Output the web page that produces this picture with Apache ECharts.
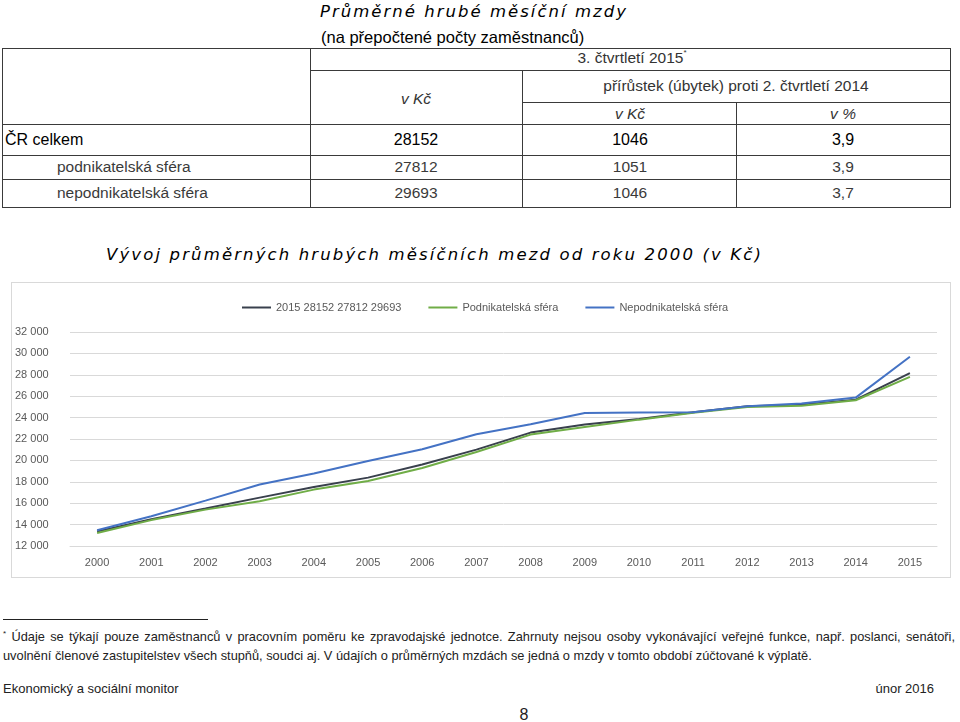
<!DOCTYPE html>
<html><head><meta charset="utf-8">
<script src="https://cdn.jsdelivr.net/npm/echarts@6/dist/echarts.min.js"></script>
<style>
body{margin:0;width:960px;height:722px;position:relative;background:#fff;overflow:hidden;font-family:"Liberation Sans",Arial,sans-serif;color:#1a1a1a}
.t{position:absolute;white-space:nowrap;line-height:1}
.hl{position:absolute;height:0;border-top:1.5px solid #3a3a3a}
.vl{position:absolute;width:0;border-left:1.5px solid #3a3a3a}
#chart{position:absolute;left:11px;top:282px;width:940px;height:296px;border:1px solid #d9d9d9;box-sizing:border-box}
.sp{font-family:"DejaVu Sans",sans-serif;font-style:italic;font-size:16.5px;color:#000}
sup{font-size:8px;vertical-align:top;position:relative;top:-1px}
</style></head><body>
<div id="page"></div>
<div id="chart"></div>
<script>
// ---------- data ----------
const years = ['2000','2001','2002','2003','2004','2005','2006','2007','2008','2009','2010','2011','2012','2013','2014','2015'];
const crTotal  = [13350,14500,15500,16520,17510,18390,19610,21010,22600,23350,23870,24490,25060,25210,25680,28152];
const podnik   = [13220,14420,15400,16180,17270,18080,19290,20790,22410,23120,23810,24450,24990,25100,25620,27812];
const nepodnik = [13470,14780,16240,17740,18770,19940,21040,22450,23380,24430,24470,24500,25060,25310,25870,29693];
const seriesNames = ['2015 28152 27812 29693','Podnikatelská sféra','Nepodnikatelská sféra'];
const yTicks = [12000,14000,16000,18000,20000,22000,24000,26000,28000,30000,32000];

const rowLabels = ['ČR celkem','podnikatelská sféra','nepodnikatelská sféra'];
const rowKc     = ['28152','27812','29693'];
const rowDiffKc = ['1046','1051','1046'];
const rowDiffPc = ['3,9','3,9','3,7'];

const title1 = 'Průměrné hrubé měsíční mzdy';
const title2 = '(na přepočtené počty zaměstnanců)';
const chartTitle = 'Vývoj průměrných hrubých měsíčních mezd od roku 2000 (v Kč)';
const footLine1 = 'Údaje se týkají pouze zaměstnanců v pracovním poměru ke zpravodajské jednotce. Zahrnuty nejsou osoby vykonávající veřejné funkce, např. poslanci, senátoři,';
const footLine2 = 'uvolnění členové zastupitelstev všech stupňů, soudci aj. V údajích o průměrných mzdách se jedná o mzdy v tomto období zúčtované k výplatě.';

// ---------- page (document text and table) ----------
const page = document.getElementById('page');
function txt(s, x, y, opt){
  opt = opt || {};
  const d = document.createElement('div');
  d.className = 't' + (opt.cls ? ' ' + opt.cls : '');
  if (opt.html) d.innerHTML = s; else d.textContent = s;
  if (!opt.cls) d.style.fontSize = (opt.fs || 15.5) + 'px';
  if (opt.color) d.style.color = opt.color;
  if (opt.italic) d.style.fontStyle = 'italic';
  if (opt.weight) d.style.fontWeight = opt.weight;
  d.style.left = x + 'px';
  d.style.top = y + 'px';
  const tx = opt.align === 'center' ? '-50%' : (opt.align === 'right' ? '-100%' : '0');
  d.style.transform = 'translate(' + tx + ',-50%)';
  page.appendChild(d);
  return d;
}
function hl(x1, x2, y){ const d=document.createElement('div'); d.className='hl'; d.style.left=x1+'px'; d.style.width=(x2-x1)+'px'; d.style.top=y+'px'; page.appendChild(d); }
function vl(x, y1, y2){ const d=document.createElement('div'); d.className='vl'; d.style.left=x+'px'; d.style.top=y1+'px'; d.style.height=(y2-y1)+'px'; page.appendChild(d); }
function spaced(el, target){
  const n = el.textContent.length;
  const w = el.getBoundingClientRect().width;
  el.style.letterSpacing = ((target - w) / n) + 'px';
}

// titles
spaced(txt(title1, 320, 12, {cls:'sp'}), 308);
txt(title2, 321, 37, {fs:16.5, color:'#000'});

// table lines
hl(2, 951, 48); hl(310, 951, 70); hl(522, 951, 102); hl(2, 951, 124); hl(2, 951, 155); hl(2, 951, 179); hl(2, 951, 206.5);
vl(2, 48, 208); vl(310, 48, 208); vl(522, 70, 208); vl(736, 102, 208); vl(950, 48, 208);

// header texts
txt('3. čtvrtletí 2015<sup>*</sup>', 632, 58, {html:true, align:'center', color:'#333'});
txt('v Kč', 416, 99, {align:'center', italic:true, color:'#333'});
txt('přírůstek (úbytek) proti 2. čtvrtletí 2014', 736, 86, {align:'center', color:'#333'});
txt('v Kč', 630, 114, {align:'center', italic:true, color:'#333'});
txt('v %', 843, 114, {align:'center', italic:true, color:'#333'});

const rowY = [140, 167, 193];
rowLabels.forEach((lab, i) => {
  const first = i === 0;
  const c = first ? '#000' : '#3a3a3a';
  txt(lab, first ? 5 : 57, rowY[i], {color:c, fs: first ? 16 : 15.5});
  txt(rowKc[i], 416, rowY[i], {align:'center', color:c, fs: first ? 16 : 15.5});
  txt(rowDiffKc[i], 630, rowY[i], {align:'center', color:c, fs: first ? 16 : 15.5});
  txt(rowDiffPc[i], 843, rowY[i], {align:'center', color:c, fs: first ? 16 : 15.5});
});

// chart title
spaced(txt(chartTitle, 106, 255, {cls:'sp'}), 657);

// footnote
const rule = document.createElement('div');
rule.style.cssText = 'position:absolute;left:3px;top:619px;width:205px;height:0;border-top:1px solid #222';
page.appendChild(rule);
const l2 = txt(footLine2, 3, 656, {fs:12, color:'#222'});
const fs = 12 * 809 / l2.getBoundingClientRect().width;
l2.style.fontSize = fs + 'px';
const l1 = document.createElement('div');
l1.innerHTML = '<sup>*</sup> ' + footLine1;
l1.style.cssText = 'position:absolute;left:3px;top:637px;width:952px;line-height:1;transform:translateY(-50%);text-align:justify;text-align-last:justify;color:#222;font-size:' + fs + 'px';
page.appendChild(l1);
txt('Ekonomický a sociální monitor', 3, 688, {fs:13, color:'#222'});
txt('únor 2016', 934, 688, {fs:13, color:'#222', align:'right'});
txt('8', 524, 715, {fs:16, color:'#222', align:'center'});

// ---------- chart ----------
const chart = echarts.init(document.getElementById('chart'), null, {renderer:'canvas'});
const colors = ['#39404d', '#70ad47', '#4472c4'];
const datasets = [crTotal, podnik, nepodnik];
chart.setOption({
  animation: false,
  color: colors,
  legend: {
    left: 224, top: 14, itemWidth: 29, itemHeight: 12, itemGap: 26,
    itemStyle: {opacity: 0},
    lineStyle: {width: 2},
    textStyle: {fontSize: 11, color: '#595959', fontFamily: 'Liberation Sans'},
    data: seriesNames
  },
  grid: {left: 56, right: 13, top: 49, bottom: 31},
  xAxis: {
    type: 'category', data: years, boundaryGap: true,
    axisLine: {lineStyle: {color: '#d9d9d9'}}, axisTick: {show: false},
    axisLabel: {color: '#595959', fontSize: 11, margin: 11, fontFamily: 'Liberation Sans'}
  },
  yAxis: {
    type: 'value', min: yTicks[0], max: yTicks[yTicks.length-1], interval: yTicks[1]-yTicks[0],
    axisLine: {show: false}, axisTick: {show: false},
    splitLine: {lineStyle: {color: '#d9d9d9', width: 1}},
    axisLabel: {
      color: '#595959', fontSize: 11, align: 'left', margin: 55, fontFamily: 'Liberation Sans',
      formatter: v => String(v).replace(/\B(?=(\d{3})+(?!\d))/g, ' ')
    }
  },
  series: seriesNames.map((n, i) => ({
    name: n, type: 'line', data: datasets[i], symbol: 'none',
    lineStyle: {width: 2, color: colors[i]}, itemStyle: {color: colors[i]}
  }))
});
</script>
</body></html>
